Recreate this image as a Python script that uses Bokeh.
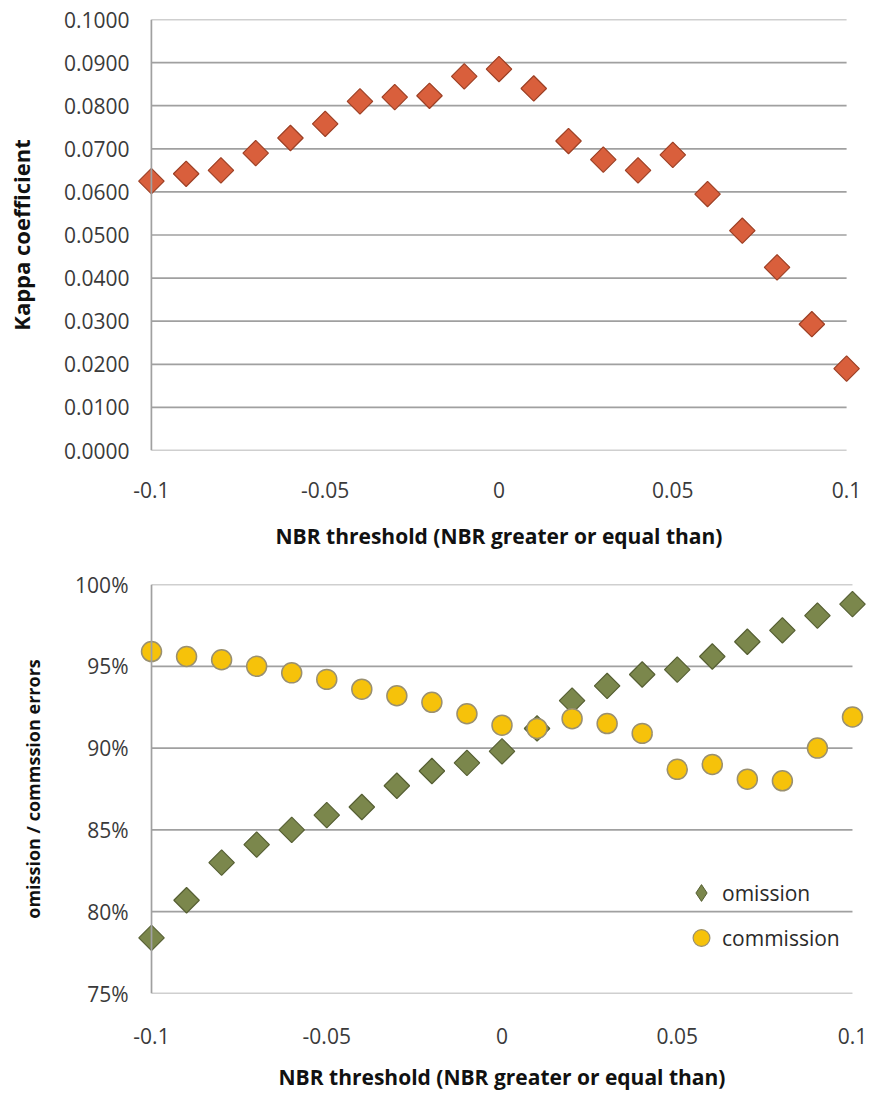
from bokeh.plotting import figure
from bokeh.layouts import column
from bokeh.models import (FixedTicker, CustomJSTickFormatter, Span, ColumnDataSource,
                          Range1d, Legend, LegendItem)
from bokeh.embed import file_html
from bokeh.resources import INLINE

# ---------------- data ----------------
nbr_threshold = [-0.10, -0.09, -0.08, -0.07, -0.06, -0.05, -0.04, -0.03, -0.02, -0.01,
                 0.00, 0.01, 0.02, 0.03, 0.04, 0.05, 0.06, 0.07, 0.08, 0.09, 0.10]
kappa = [0.0625, 0.0642, 0.0650, 0.0690, 0.0725, 0.0758, 0.0810, 0.0820, 0.0823, 0.0868,
         0.0885, 0.0840, 0.0718, 0.0675, 0.0650, 0.0686, 0.0595, 0.0510, 0.0425, 0.0293, 0.0190]
omission = [78.4, 80.7, 83.0, 84.1, 85.0, 85.9, 86.4, 87.7, 88.6, 89.1,
            89.8, 91.2, 92.9, 93.8, 94.5, 94.8, 95.6, 96.5, 97.2, 98.1, 98.8]
commission = [95.9, 95.6, 95.4, 95.0, 94.6, 94.2, 93.6, 93.2, 92.8, 92.1,
              91.4, 91.2, 91.8, 91.5, 90.9, 88.7, 89.0, 88.1, 88.0, 90.0, 91.9]

x_ticks = [-0.1, -0.05, 0.0, 0.05, 0.1]
x_tick_labels = ["-0.1", "-0.05", "0", "0.05", "0.1"]
kappa_ticks = [0.0, 0.01, 0.02, 0.03, 0.04, 0.05, 0.06, 0.07, 0.08, 0.09, 0.10]
kappa_tick_labels = ["0.0000", "0.0100", "0.0200", "0.0300", "0.0400", "0.0500",
                     "0.0600", "0.0700", "0.0800", "0.0900", "0.1000"]
err_ticks = [75, 80, 85, 90, 95, 100]
err_tick_labels = ["75%", "80%", "85%", "90%", "95%", "100%"]

x_title = "NBR threshold (NBR greater or equal than)"
kappa_title = "Kappa coefficient"
err_title = "omission / commssion errors"

# ---------------- style ----------------
FONT = "Open Sans"
GRID = "#a0a0a0"
TICK_COLOR = "#3a3a3a"
X_MIN, X_MAX = x_ticks[0], x_ticks[-1]
PAD = 0.004
NAN = float("nan")

fmt_code = """
const i = tvals.findIndex(t => Math.abs(t - tick) < 1e-9);
return i >= 0 ? tlabels[i] : '';
"""


def style(p, yt, yl, ytitle, ytitle_size):
    p.xgrid.visible = False
    p.ygrid.visible = False
    p.outline_line_color = None
    p.background_fill_color = "white"
    p.border_fill_color = "white"
    p.xaxis.ticker = FixedTicker(ticks=x_ticks)
    p.xaxis.formatter = CustomJSTickFormatter(args=dict(tvals=x_ticks, tlabels=x_tick_labels), code=fmt_code)
    p.yaxis.ticker = FixedTicker(ticks=yt)
    p.yaxis.formatter = CustomJSTickFormatter(args=dict(tvals=yt, tlabels=yl), code=fmt_code)
    for ax in (p.xaxis[0], p.yaxis[0]):
        ax.axis_line_color = None
        ax.major_tick_line_color = None
        ax.minor_tick_line_color = None
        ax.major_tick_in = 0
        ax.major_tick_out = 0
        ax.major_label_text_font = FONT
        ax.major_label_text_font_size = "21px"
        ax.major_label_text_color = TICK_COLOR
        ax.axis_label_text_font = FONT
        ax.axis_label_text_font_style = "bold"
        ax.axis_label_text_color = "#111111"
    p.xaxis.axis_label_text_font_size = "21px"
    p.yaxis.axis_label_text_font_size = ytitle_size
    p.xaxis.axis_label = x_title
    p.yaxis.axis_label = ytitle
    # horizontal gridlines between -0.1 and 0.1
    p.segment(x0=[X_MIN] * len(yt), x1=[X_MAX] * len(yt), y0=yt, y1=yt,
              line_color=GRID, line_width=1.7)
    p.add_layout(Span(location=X_MIN, dimension="height", line_color=GRID, line_width=1.7))


# ---------------- top chart ----------------
p1 = figure(frame_width=723, frame_height=431, output_backend="svg", toolbar_location=None,
            x_range=Range1d(X_MIN - PAD, X_MAX + PAD), y_range=Range1d(kappa_ticks[0], kappa_ticks[-1]),
            min_border_left=136, min_border_right=10, min_border_top=19, min_border_bottom=100)
style(p1, kappa_ticks, kappa_tick_labels, kappa_title, "22px")
p1.xaxis.major_label_standoff = 31
p1.xaxis.axis_label_standoff = 21
p1.yaxis.major_label_standoff = 8
p1.yaxis.axis_label_standoff = 25

src1 = ColumnDataSource(dict(x=nbr_threshold, y=kappa))
p1.scatter("x", "y", source=src1, marker="square", angle=0.785398, size=18,
           fill_color="#d95f3c", line_color="#9c3f24", line_width=1.2)

# ---------------- bottom chart ----------------
p2 = figure(frame_width=729, frame_height=409, output_backend="svg", toolbar_location=None,
            x_range=Range1d(X_MIN - PAD, X_MAX + PAD), y_range=Range1d(err_ticks[0], err_ticks[-1]),
            min_border_left=137, min_border_right=4, min_border_top=32, min_border_bottom=96)
style(p2, err_ticks, err_tick_labels, err_title, "18px")
p2.xaxis.major_label_standoff = 34
p2.xaxis.axis_label_standoff = 16
p2.yaxis.major_label_standoff = 9
p2.yaxis.axis_label_standoff = 27

src2 = ColumnDataSource(dict(x=nbr_threshold, om=omission, co=commission))
p2.scatter("x", "om", source=src2, marker="square", angle=0.785398, size=18,
           fill_color="#7b874c", line_color="#565f33", line_width=1.2)
p2.scatter("x", "co", source=src2, marker="circle", size=20,
           fill_color="#f6c20a", line_color="#9a9070", line_width=1.5)

# legend swatches (renderers without visible points so the legend can show a diamond)
leg_src = ColumnDataSource(dict(x=[NAN], y=[NAN]))
lg_om = p2.scatter("x", "y", source=leg_src, marker="diamond",
                   fill_color="#7b874c", line_color="#565f33", line_width=1.0)
lg_co = p2.scatter("x", "y", source=leg_src, marker="circle",
                   fill_color="#f6c20a", line_color="#9a9070", line_width=1.2)

legend = Legend(items=[LegendItem(label="omission", renderers=[lg_om]),
                       LegendItem(label="commission", renderers=[lg_co])],
                location=(543, 33))
legend.background_fill_alpha = 0
legend.border_line_color = None
legend.padding = 0
legend.margin = 0
legend.glyph_width = 42
legend.glyph_height = 45
legend.label_height = 45
legend.spacing = 0
legend.label_standoff = 0
legend.label_text_font = FONT
legend.label_text_font_size = "21px"
legend.label_text_color = "#2a2a2a"
p2.add_layout(legend)

layout = column(p1, p2, spacing=0)
open("out.html", "w").write(file_html(layout, INLINE))
